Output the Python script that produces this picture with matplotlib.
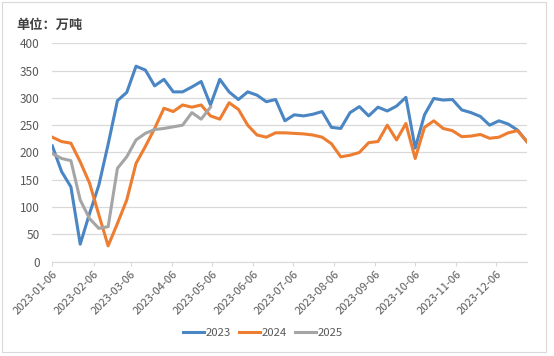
import numpy as np
import pandas as pd
import matplotlib
matplotlib.use('Agg')
import matplotlib.pyplot as plt
from matplotlib.patches import Rectangle

plt.rcParams['font.family'] = ['Noto Sans CJK SC', 'DejaVu Sans']

# weekly dates (2024 / 2025 are plotted on the same week slots)
dates = pd.date_range('2023-01-06', periods=52, freq='7D')

v2023 = [212, 165, 137, 32, 88, 140, 215, 295, 310, 358, 351, 322, 334,
         311, 311, 320, 330, 287, 334, 311, 297, 311, 305, 293, 297, 258,
         269, 267, 270, 275, 246, 244, 273, 284, 267, 283, 276, 285, 301,
         208, 269, 299, 296, 297, 278, 273, 266, 250, 258, 252, 241, 220]
v2024 = [228, 220, 217, 183, 144, 86, 29, 70, 113, 180, 211, 244, 281,
         275, 287, 283, 287, 267, 261, 291, 279, 250, 232, 228, 236, 236,
         235, 234, 232, 228, 216, 192, 195, 200, 218, 220, 250, 223, 253,
         189, 246, 258, 244, 240, 229, 230, 233, 226, 228, 236, 240, 220]
v2025 = [198, 189, 185, 113, 79, 61, 64, 171, 192, 223, 235, 242, 244,
         247, 250, 273, 261, 283]

series = ['2023', '2024', '2025']
colors = ['#4a85c4', '#ed7d31', '#a5a5a5']
tick_dates = pd.date_range('2023-01-01', periods=12, freq='MS') + pd.Timedelta(days=5)

fig = plt.figure(figsize=(5.54, 3.56), dpi=100)
fig.patches.append(Rectangle((2 / 554, 4 / 356), 544 / 554, 350 / 356,
                             transform=fig.transFigure, fill=False,
                             edgecolor='#d9d9d9', lw=0.8))
ax = fig.add_axes([0.0944, 0.265, 0.8566, 0.6134])

for vals, name, c in zip([v2023, v2024, v2025], series, colors):
    ax.plot(dates[:len(vals)], vals, color=c, lw=2.2, label=name,
            solid_joinstyle='round')

ax.set_ylim(0, 400)
ax.set_yticks(range(0, 401, 50))
ax.set_xlim(dates[0], dates[-1])
ax.set_xticks(tick_dates)
ax.set_xticklabels([d.strftime('%Y-%m-%d') for d in tick_dates],
                   rotation=45, ha='right', rotation_mode='anchor')

ax.grid(axis='y', color='#d9d9d9', lw=0.9)
ax.set_axisbelow(True)
for s in ['top', 'right', 'left']:
    ax.spines[s].set_visible(False)
ax.spines['bottom'].set_color('#d9d9d9')
ax.tick_params(axis='y', length=0, labelsize=8.5, labelcolor='#595959', pad=9)
ax.tick_params(axis='x', length=3, color='#d9d9d9', labelsize=8,
               labelcolor='#595959', pad=2)

fig.text(16 / 554, 1 - 25 / 356, '单位：万吨', fontsize=9.5, color='#404040',
         fontweight='bold', va='center', ha='left')

fig.legend(loc='center', bbox_to_anchor=(0.475, 1 - 333 / 356), ncol=3,
           frameon=False, fontsize=8.2, handlelength=1.8, columnspacing=0.7,
           handletextpad=0.2, labelcolor='#595959')

fig.savefig('out.png', dpi=100)
